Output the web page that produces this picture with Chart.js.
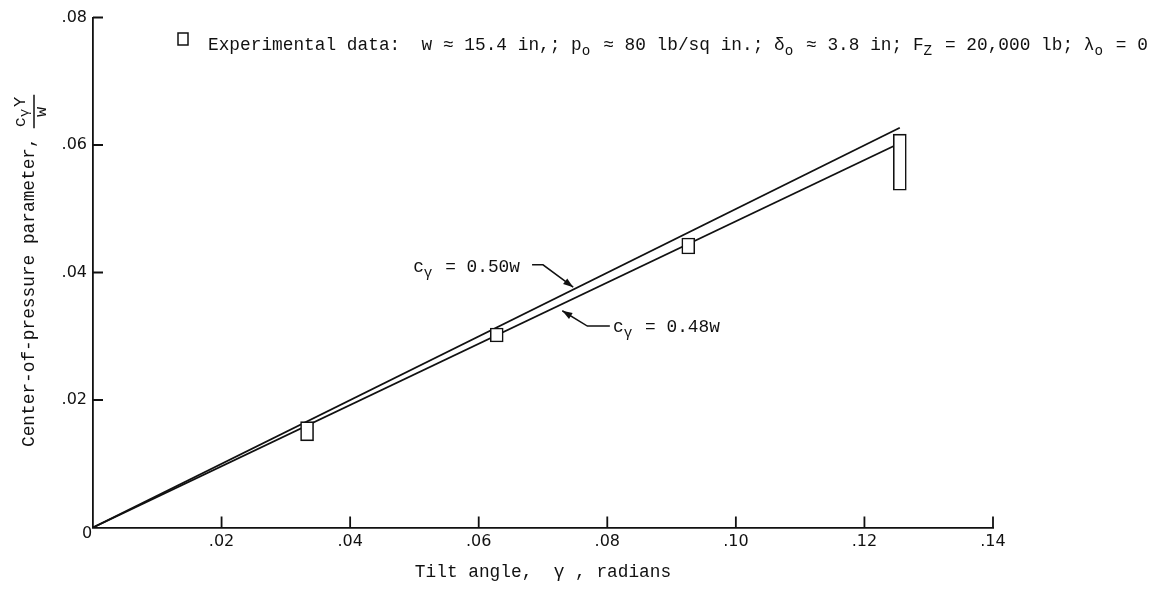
<!DOCTYPE html>
<html>
<head>
<meta charset="utf-8">
<script src="https://cdn.jsdelivr.net/npm/chart.js@4/dist/chart.umd.min.js"></script>
<style>
  html, body { margin: 0; padding: 0; background: #fff; }
  #wrap { width: 1161px; height: 593px; position: relative; }
</style>
</head>
<body>
<div id="wrap"><canvas id="myChart"></canvas></div>
<script>
// experimental points: tilt angle and the measured spread of c_Y*gamma/w
const expGamma = [0.0333, 0.0628, 0.0926, 0.1255];
const expLow = [0.0136, 0.0291, 0.0429, 0.0529];
const expHigh = [0.0166, 0.0313, 0.0454, 0.0617];
// faired lines c_Y = 0.50w and c_Y = 0.48w
const line50Gamma = [0, 0.1255];
const line50Value = [0, 0.0627];
const line48Gamma = [0, 0.1245];
const line48Value = [0, 0.0598];
// axis ticks
const xTicks = [0, 0.02, 0.04, 0.06, 0.08, 0.10, 0.12, 0.14];
const yTicks = [0, 0.02, 0.04, 0.06, 0.08];

const INK = '#111';
const MONO = '"Liberation Mono", "DejaVu Sans Mono", monospace';
const FS = 17.8;
const CELL = FS * 0.6;

const fmt = v => v === 0 ? '' : '.' + v.toFixed(2).slice(2);

// typewriter text with lowered subscripts, one cell per character
function rich(ctx, pieces, x, y, size, drop) {
  size = size || FS;
  drop = drop == null ? size * 0.3 : drop;
  const cell = size * 0.6;
  let cx = x;
  for (const [s, sub] of pieces) {
    ctx.font = (sub ? size * 0.8 : size) + 'px ' + MONO;
    for (const ch of s) {
      ctx.fillText(ch, cx, y + (sub ? drop : 0));
      cx += cell;
    }
  }
  return cx;
}

function arrow(ctx, pts) {
  ctx.beginPath();
  ctx.moveTo(pts[0][0], pts[0][1]);
  for (let i = 1; i < pts.length; i++) ctx.lineTo(pts[i][0], pts[i][1]);
  ctx.stroke();
  const [ax, ay] = pts[pts.length - 2];
  const [bx, by] = pts[pts.length - 1];
  const a = Math.atan2(by - ay, bx - ax);
  ctx.beginPath();
  ctx.moveTo(bx, by);
  ctx.lineTo(bx - 10 * Math.cos(a) + 3.5 * Math.sin(a), by - 10 * Math.sin(a) - 3.5 * Math.cos(a));
  ctx.lineTo(bx - 10 * Math.cos(a) - 3.5 * Math.sin(a), by - 10 * Math.sin(a) + 3.5 * Math.cos(a));
  ctx.closePath();
  ctx.fill();
}

const labelsPlugin = {
  id: 'labels',
  afterDraw(chart) {
    const ctx = chart.ctx;
    const xs = chart.scales.x, ys = chart.scales.y;
    const px = v => xs.getPixelForValue(v);
    const py = v => ys.getPixelForValue(v);
    const ca = chart.chartArea;
    ctx.save();
    ctx.strokeStyle = INK;
    ctx.fillStyle = INK;
    ctx.lineWidth = 1.8;

    // inward tick marks
    ctx.beginPath();
    yTicks.forEach(v => { if (v) { ctx.moveTo(ca.left, py(v)); ctx.lineTo(ca.left + 10, py(v)); } });
    xTicks.forEach(v => { if (v) { ctx.moveTo(px(v), ca.bottom); ctx.lineTo(px(v), ca.bottom - 11); } });
    ctx.stroke();

    // shared origin label
    ctx.font = '16px "DejaVu Sans"';
    ctx.textAlign = 'center';
    ctx.textBaseline = 'middle';
    ctx.fillText('0', ca.left - 6, ca.bottom + 6);

    ctx.textAlign = 'left';
    ctx.textBaseline = 'alphabetic';

    // key line
    ctx.lineWidth = 1.5;
    ctx.strokeRect(178, 33, 10, 12);
    rich(ctx, [
      ['Experimental data:  w ≈ 15.4 in,; p'], ['o', 1],
      [' ≈ 80 lb/sq in.; δ'], ['o', 1],
      [' ≈ 3.8 in; F'], ['Z', 1],
      [' = 20,000 lb; λ'], ['o', 1], [' = 0']
    ], 208, 50);

    // line callouts
    ctx.lineWidth = 1.5;
    rich(ctx, [['c'], ['γ', 1], [' = 0.50w']], px(0.0498), py(0.0401));
    arrow(ctx, [[px(0.0683), py(0.0412)], [px(0.0700), py(0.0412)], [px(0.0747), py(0.0377)]]);
    rich(ctx, [['c'], ['γ', 1], [' = 0.48w']], px(0.0809), py(0.0307));
    arrow(ctx, [[px(0.0804), py(0.0316)], [px(0.0769), py(0.0316)], [px(0.0730), py(0.0340)]]);

    // x axis title
    const xt = 'Tilt angle,  γ , radians';
    rich(ctx, [[xt]], (ca.left + ca.right) / 2 - xt.length * CELL / 2, 577);

    // y axis title, rotated, with the fraction c_Y Y / w
    ctx.translate(34, 447);
    ctx.rotate(-Math.PI / 2);
    const yt = 'Center-of-pressure parameter,';
    rich(ctx, [[yt]], 0, 0);
    const fs = 17;
    const f0 = yt.length * CELL + 10;
    rich(ctx, [['c'], ['γ', 1], ['Y']], f0, -9, fs, 3);
    ctx.lineWidth = 1.5;
    ctx.beginPath();
    ctx.moveTo(f0 - 1, 0);
    ctx.lineTo(f0 + 3 * fs * 0.6 + 2, 0);
    ctx.stroke();
    rich(ctx, [['w']], f0 + fs * 0.6, 12, fs);
    ctx.restore();
  }
};

const ctx = document.getElementById('myChart').getContext('2d');
new Chart(ctx, {
  type: 'bar',
  data: {
    datasets: [{
      type: 'bar',
      data: expGamma.map((g, i) => ({ x: g, y: [expLow[i], expHigh[i]] })),
      backgroundColor: '#fff',
      borderColor: INK,
      borderWidth: 1.6,
      borderSkipped: false,
      barThickness: 13,
      order: 0
    }, {
      type: 'line',
      data: line50Gamma.map((g, i) => ({ x: g, y: line50Value[i] })),
      borderColor: INK,
      borderWidth: 1.8,
      pointRadius: 0,
      fill: false,
      order: 1
    }, {
      type: 'line',
      data: line48Gamma.map((g, i) => ({ x: g, y: line48Value[i] })),
      borderColor: INK,
      borderWidth: 1.8,
      pointRadius: 0,
      fill: false,
      order: 1
    }]
  },
  options: {
    responsive: true,
    maintainAspectRatio: false,
    animation: false,
    events: [],
    layout: { padding: { top: 17.5, right: 168, left: 0, bottom: 0 } },
    plugins: { legend: { display: false }, tooltip: { enabled: false } },
    scales: {
      x: {
        type: 'linear',
        min: 0,
        max: 0.14,
        offset: false,
        afterBuildTicks: s => { s.ticks = xTicks.map(v => ({ value: v })); },
        afterFit: s => { s.height = 65.5; },
        grid: { offset: false, drawOnChartArea: false, drawTicks: false },
        border: { display: true, color: INK, width: 1.8 },
        ticks: { padding: 5, color: INK, autoSkip: false, maxRotation: 0, font: { family: 'DejaVu Sans', size: 16 }, callback: fmt }
      },
      y: {
        type: 'linear',
        min: 0,
        max: 0.08,
        afterBuildTicks: s => { s.ticks = yTicks.map(v => ({ value: v })); },
        afterFit: s => { s.width = 93; },
        grid: { drawOnChartArea: false, drawTicks: false },
        border: { display: true, color: INK, width: 1.8 },
        ticks: { padding: 6, color: INK, font: { family: 'DejaVu Sans', size: 16 }, callback: fmt }
      }
    }
  },
  plugins: [labelsPlugin]
});
</script>
</body>
</html>
